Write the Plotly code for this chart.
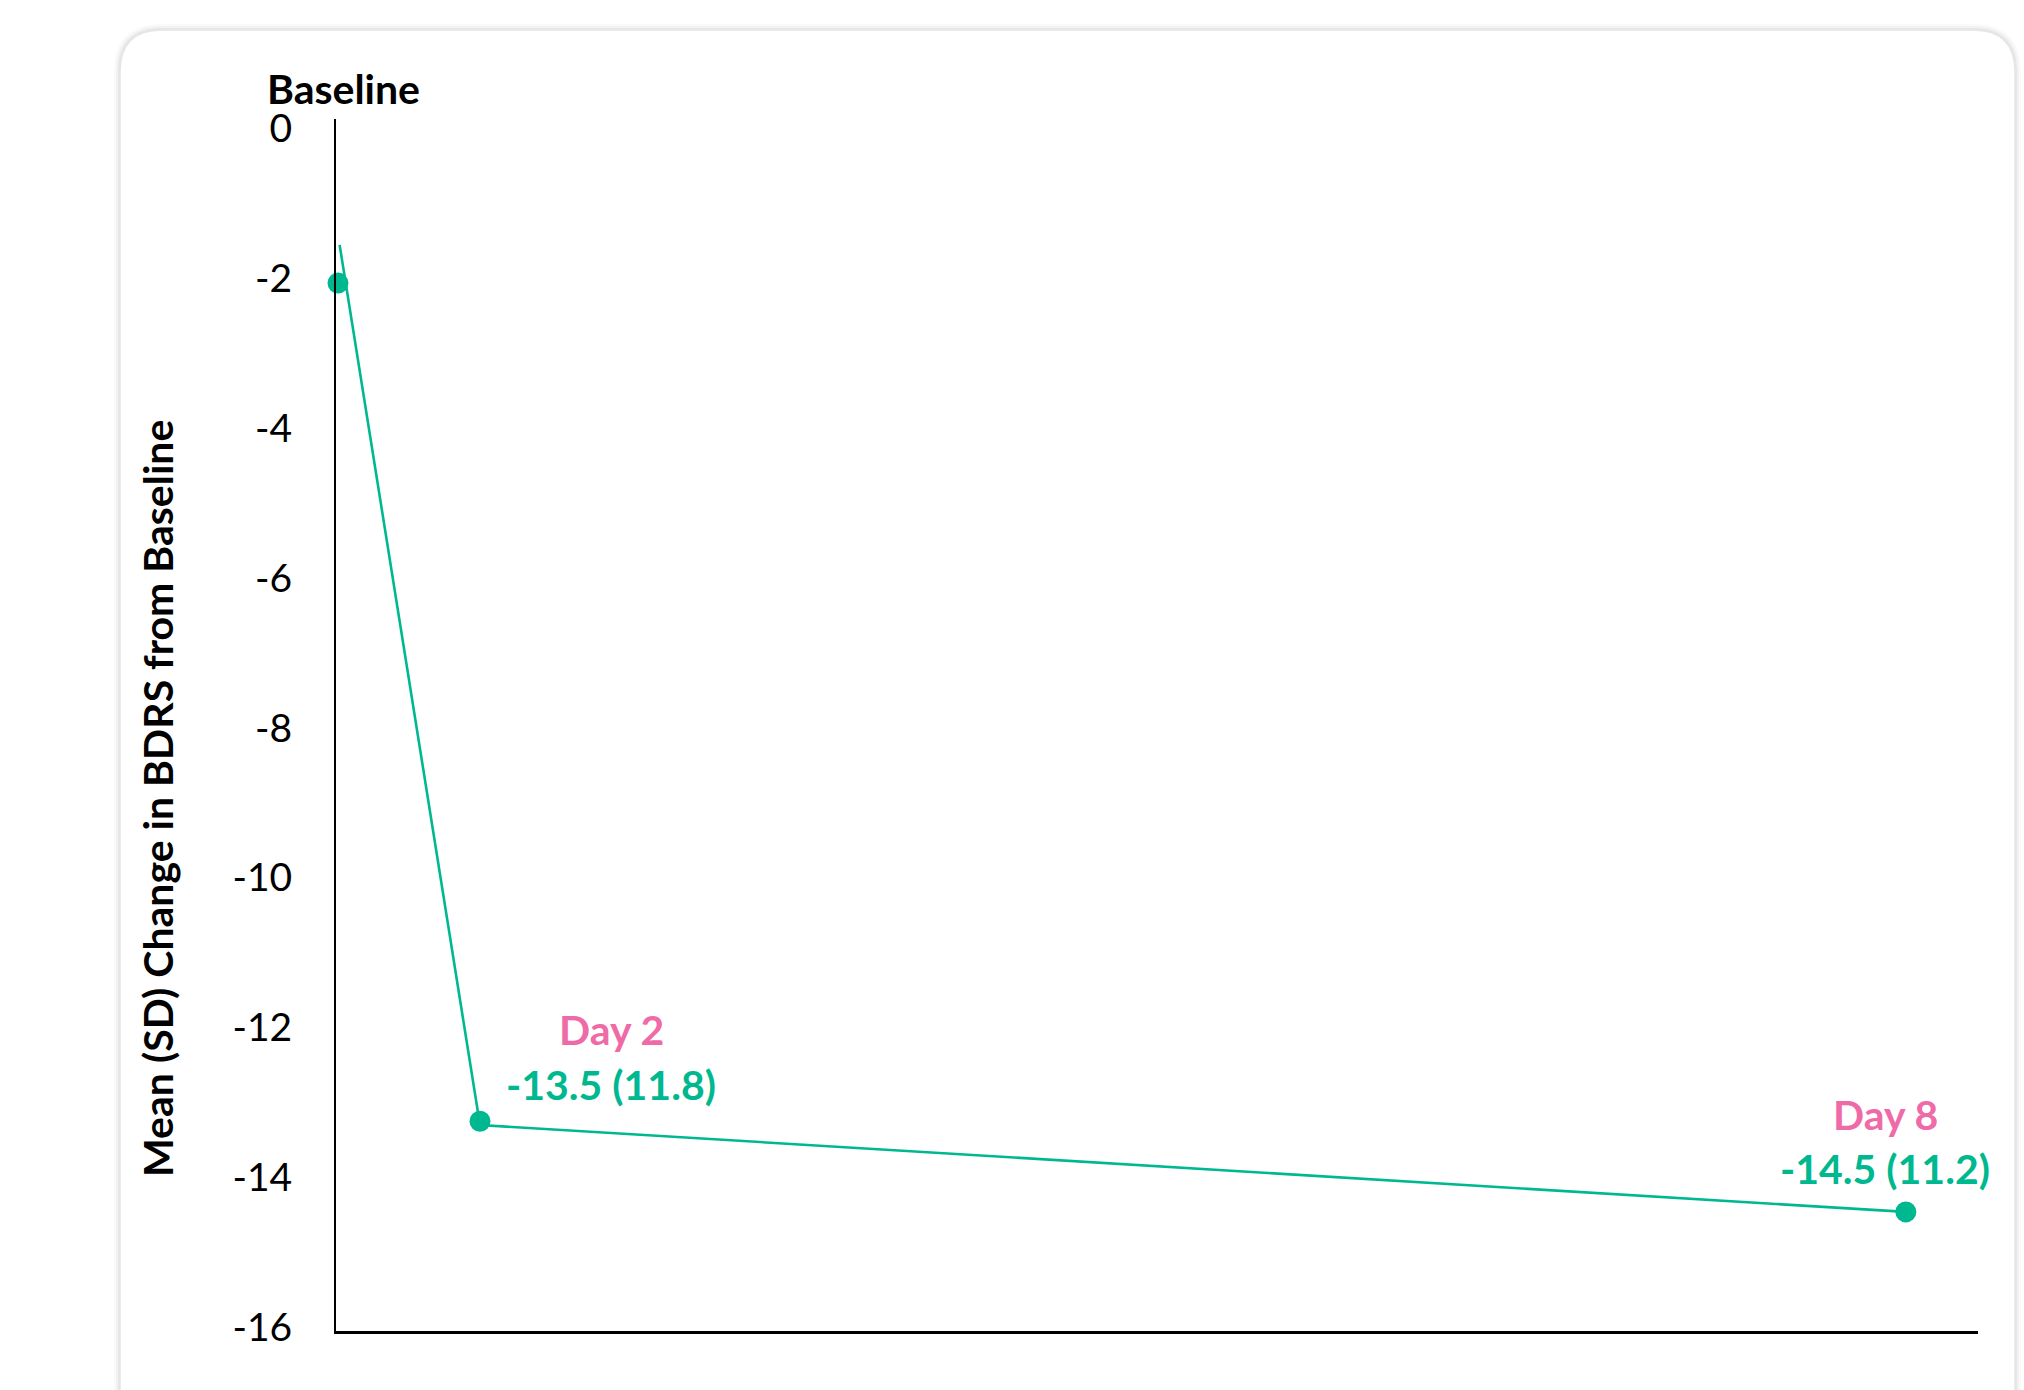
import plotly.graph_objects as go

# ---- data ----
timepoints = ["Baseline", "Day 2", "Day 8"]
x_pos = [0.0, 8.66, 95.6]           # horizontal position on the slide's time axis
mean_change = [-2.06, -13.25, -14.46]
line_x = [0.1, 8.66, 95.6]
line_y = [-1.55, -13.3, -14.46]
label_values = ["-13.5 (11.8)", "-14.5 (11.2)"]
label_days = ["Day 2", "Day 8"]
y_ticks = [0, -2, -4, -6, -8, -10, -12, -14, -16]

TEAL = "#00B890"
PINK = "#EF6BA8"
FONT = "Lato"

W, H = 2024, 1390
L, R, T, B = 336, 46, 119, 59
PW, PH = W - L - R, H - T - B


def px2paper(px, py):
    return (px - L) / PW, (H - B - py) / PH


def rounded_path(x0, y0, x1, y1, r):
    # pixel coords -> paper rounded rectangle path
    ax0, ay1 = px2paper(x0, y0)
    ax1, ay0 = px2paper(x1, y1)
    rx, ry = r / PW, r / PH
    return (f"M {ax0+rx},{ay1} L {ax1-rx},{ay1} Q {ax1},{ay1} {ax1},{ay1-ry} "
            f"L {ax1},{ay0+ry} Q {ax1},{ay0} {ax1-rx},{ay0} "
            f"L {ax0+rx},{ay0} Q {ax0},{ay0} {ax0},{ay0+ry} "
            f"L {ax0},{ay1-ry} Q {ax0},{ay1} {ax0+rx},{ay1} Z")


fig = go.Figure()

fig.add_trace(go.Scatter(x=line_x, y=line_y, mode="lines",
                         line=dict(color=TEAL, width=2.6), hoverinfo="skip",
                         showlegend=False, cliponaxis=False))
fig.add_trace(go.Scatter(x=x_pos, y=mean_change, mode="markers",
                         marker=dict(color=TEAL, size=21), showlegend=False,
                         cliponaxis=False, text=timepoints))

shapes = []
# soft shadow layers
for grow, op in [(6, 0.05), (4, 0.08), (2, 0.12)]:
    shapes.append(dict(type="path", xref="paper", yref="paper", layer="below",
                       path=rounded_path(120 - grow, 30 - grow, 2015 + grow, 1440, 42 + grow),
                       fillcolor=f"rgba(150,150,150,{op})", line=dict(width=0)))
shapes.append(dict(type="path", xref="paper", yref="paper", layer="below",
                   path=rounded_path(120, 30, 2015, 1440, 42),
                   fillcolor="white", line=dict(color="#e6e6e6", width=1.5)))

annotations = []
# Baseline label on top of the axis
bx, by = px2paper(343, 89)
annotations.append(dict(x=bx, y=by, xref="paper", yref="paper", text="<b>Baseline</b>",
                        showarrow=False, font=dict(family=FONT, size=41, color="black"),
                        xanchor="center", yanchor="middle"))
# y axis title
tx, ty = px2paper(157, 799)
annotations.append(dict(x=tx, y=ty, xref="paper", yref="paper",
                        text="<b>Mean (SD) Change in BDRS from Baseline</b>", textangle=-90,
                        showarrow=False, font=dict(family=FONT, size=41, color="black"),
                        xanchor="center", yanchor="middle"))
# point labels
label_px = [(611, 1029, 1084), (1885, 1114, 1168)]
for (cx, dy, vy), d, v in zip(label_px, label_days, label_values):
    ax_, ay_ = px2paper(cx, dy)
    annotations.append(dict(x=ax_, y=ay_, xref="paper", yref="paper", text=f"<b>{d}</b>",
                            showarrow=False, font=dict(family=FONT, size=41, color=PINK),
                            xanchor="center", yanchor="middle"))
    ax_, ay_ = px2paper(cx, vy)
    annotations.append(dict(x=ax_, y=ay_, xref="paper", yref="paper", text=f"<b>{v}</b>",
                            showarrow=False, font=dict(family=FONT, size=41, color=TEAL),
                            xanchor="center", yanchor="middle"))

fig.update_layout(
    width=W, height=H,
    margin=dict(l=L, r=R, t=T, b=B),
    paper_bgcolor="white", plot_bgcolor="rgba(0,0,0,0)",
    shapes=shapes, annotations=annotations,
    xaxis=dict(range=[-0.12, 100], showgrid=False, zeroline=False, showticklabels=False,
               ticks="", showline=True, linecolor="black", linewidth=3, fixedrange=True),
    yaxis=dict(range=[-16.05, 0.13], tickvals=y_ticks, ticktext=[str(v) for v in y_ticks],
               showgrid=False, zeroline=False, ticks="", showline=True, linecolor="black",
               linewidth=2, ticklabelstandoff=34,
               tickfont=dict(family=FONT, size=39, color="black"), fixedrange=True),
)

fig.write_html("out.html")
